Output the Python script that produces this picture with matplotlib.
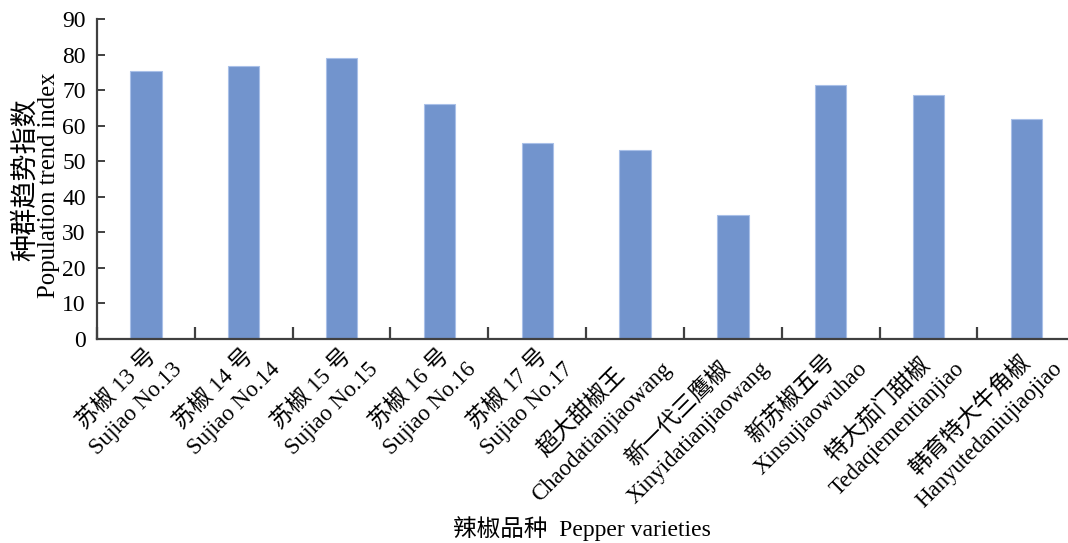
import numpy as np
import matplotlib
matplotlib.use("Agg")
import matplotlib.pyplot as plt
from matplotlib.transforms import ScaledTranslation

plt.rcParams["font.family"] = ["Liberation Serif", "Noto Sans CJK SC"]

# ─── DATA ────────────────────────────────────────────────
varieties_cn = ["苏椒 13 号", "苏椒 14 号", "苏椒 15 号", "苏椒 16 号", "苏椒 17 号",
                "超大甜椒王", "新一代三鹰椒", "新苏椒五号", "特大茄门甜椒", "韩育特大牛角椒"]
varieties_en = ["Sujiao No.13", "Sujiao No.14", "Sujiao No.15", "Sujiao No.16", "Sujiao No.17",
                "Chaodatianjiaowang", "Xinyidatianjiaowang", "Xinsujiaowuhao",
                "Tedaqiementianjiao", "Hanyutedaniujiaojiao"]
trend_index = [75.5, 76.9, 78.9, 66.0, 55.1, 53.1, 34.9, 71.4, 68.7, 62.0]

BAR = "#7294CD"; BAR_EDGE = "#A9C0E8"; AXIS = "#404040"
CN_SIZE = 16.5; EN_SIZE = 16.5

fig = plt.figure(figsize=(10.68, 5.43), dpi=100)
ax = fig.add_axes([0.0908, 0.376, 0.916, 0.589])

x = np.arange(len(trend_index))
ax.bar(x, trend_index, width=0.32, color=BAR, edgecolor=BAR_EDGE, linewidth=0.8)

ax.set_xlim(-0.5, len(x) - 0.5)
ax.set_ylim(0, 90)
ax.set_yticks(np.arange(0, 91, 10))

for side in ["top", "right"]:
    ax.spines[side].set_visible(False)
for side in ["left", "bottom"]:
    ax.spines[side].set_color(AXIS)
    ax.spines[side].set_linewidth(1.6)

ax.tick_params(axis="y", direction="in", length=6, width=1.4, color=AXIS,
               labelsize=17, pad=8)
ax.set_xticks(np.arange(-0.5, len(x), 1.0), minor=True)
ax.tick_params(axis="x", which="minor", direction="in", length=9, width=1.6, color=AXIS)
ax.set_xticks(x)
ax.tick_params(axis="x", which="major", length=0, labelbottom=False)

# ─── ROTATED TWO-LINE CATEGORY LABELS ────────────────────
# each label: Chinese line above English line, lines centred on each other,
# rotated 45° with the end of the English line hanging under the category
renderer = fig.canvas.get_renderer()
ang = np.deg2rad(45)
u = np.array([np.cos(ang), np.sin(ang)])      # along the text
n = np.array([-np.sin(ang), np.cos(ang)])     # towards the previous line
end_off = np.array([33.0, -27.0])             # px from category centre on the axis
line_gap = 28.0                                # px between the two lines

for i, (cn, en) in enumerate(zip(varieties_cn, varieties_en)):
    t_cn = ax.text(i, 0, cn, fontsize=CN_SIZE, ha="center", va="center",
                   transform=ax.get_xaxis_transform())
    t_en = ax.text(i, 0, en, fontsize=EN_SIZE, ha="center", va="center",
                   transform=ax.get_xaxis_transform())
    w = max(t_cn.get_window_extent(renderer).width,
            t_en.get_window_extent(renderer).width)
    c_en = end_off - u * w / 2
    c_cn = c_en + n * line_gap
    for t, c in ((t_cn, c_cn), (t_en, c_en)):
        t.set_rotation(45)
        t.set_rotation_mode("anchor")
        t.set_transform(ax.get_xaxis_transform()
                        + ScaledTranslation(c[0] / 100, c[1] / 100, fig.dpi_scale_trans))

# ─── AXIS TITLES ─────────────────────────────────────────
fig.text(26 / 1068, 1 - 180 / 543, "种群趋势指数", fontsize=19.5,
         rotation=90, ha="center", va="center")
fig.text(49 / 1068, 1 - 185 / 543, "Population trend index", fontsize=17.8,
         rotation=90, ha="center", va="center")

fig.text(0.545, 0.027, "辣椒品种  Pepper varieties", fontsize=17, ha="center", va="center")

fig.savefig("out.png", dpi=100, facecolor="white")
